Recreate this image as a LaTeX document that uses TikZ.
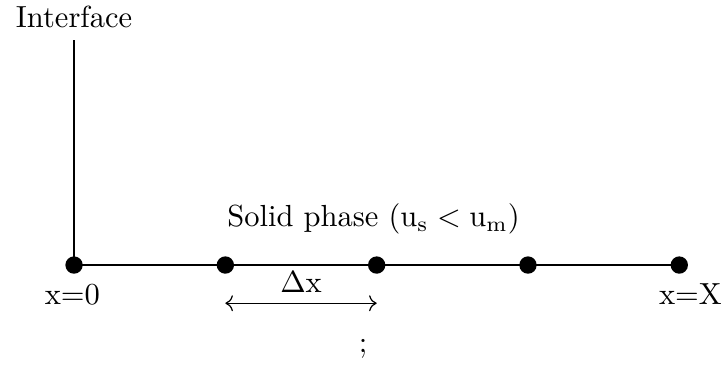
\documentclass[tikz,border=0pt]{standalone}
\usepackage{amsmath}
\usepackage{tikz}
\usetikzlibrary{arrows.meta,positioning}

\begin{document}
\begin{tikzpicture}[
  dot/.style={circle, fill, inner sep=0pt, minimum size=2mm},
  lbl/.style={anchor=base, inner sep=0pt},
  ln/.style={semithick}]
  \useasboundingbox (-0.853,-1.164) rectangle (7.51,3.053);
  \node[dot] (p0) at (0,0) {};
  \node[dot] (p1) at (1.743,0) {};
  \node[dot] (p2) at (3.486,0) {};
  \node[dot] (p3) at (5.229,0) {};
  \node[dot] (p4) at (6.972,0) {};
  \coordinate (top) at (0,2.59);
  \draw[ln] (p0.center) -- (top);
  \draw[ln] (p0.center) -- (p4.center);
  \node[lbl] (iface) at (0,2.74) {Interface};
  \node[lbl] (solid) at (3.45,0.44) {Solid phase ($\mathrm{u_s} < \mathrm{u_m}$)};
  \node[lbl] (x0) at (-0.02,-0.46) {$\mathrm{x{=}0}$};
  \node[lbl] (xX) at (7.1,-0.46) {$\mathrm{x{=}X}$};
  \node[lbl] (dx) at (2.615,-0.32) {$\Delta\mathrm{x}$};
  \draw[<->] ([yshift=-0.44cm]p1.center) -- ([yshift=-0.44cm]p2.center);
  \node[lbl] (semi) at (3.33,-1.01) {;};
\end{tikzpicture}
\end{document}
